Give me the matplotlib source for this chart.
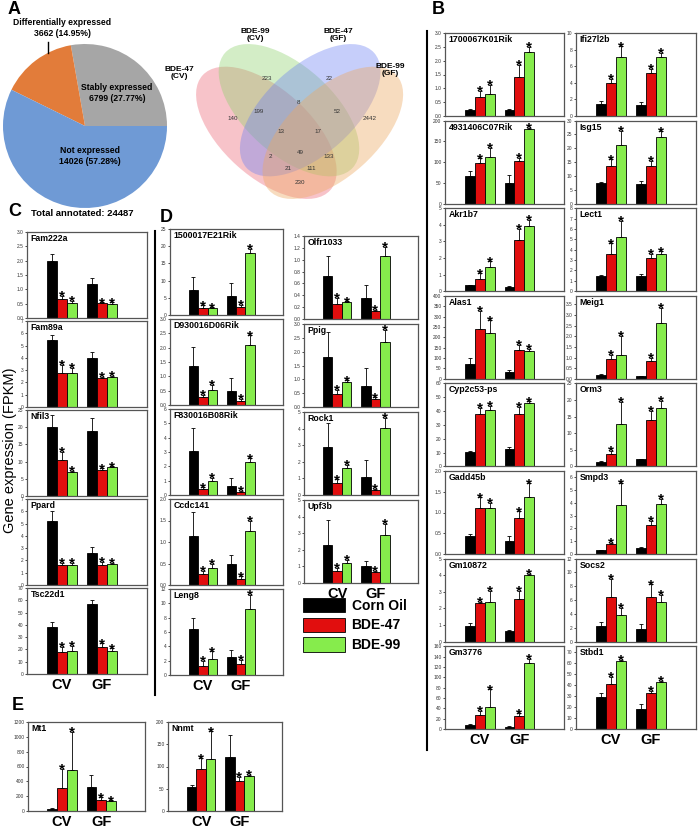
import numpy as np
import matplotlib
matplotlib.use('Agg')
import matplotlib.pyplot as plt
from matplotlib.patches import Ellipse, Patch
from matplotlib.lines import Line2D

plt.rcParams['font.family'] = ['Liberation Sans', 'DejaVu Sans']

W, H = 700, 831

# ---------------- panel A data
pie_names = ['Stably expressed', 'Differentially expressed', 'Not expressed']
pie_counts = [6799, 3662, 14026]
pie_colors = ['#A6A6A6', '#E27C3A', '#6F9AD5']
total_annotated = 24487

venn_sets = ['BDE-47\n(CV)', 'BDE-99\n(CV)', 'BDE-47\n(GF)', 'BDE-99\n(GF)']
venn_colors = [(0.93, 0.42, 0.48, 0.40), (0.55, 0.82, 0.42, 0.38),
               (0.42, 0.50, 0.95, 0.38), (0.93, 0.66, 0.38, 0.40)]
# membership in (47CV, 99CV, 47GF, 99GF)
venn_regions = ['1000', '0100', '0010', '0001', '1100', '0110', '0011', '1010',
                '0101', '1001', '1110', '0111', '1011', '1101', '1111']
venn_counts = [140, 223, 22, 2442, 199, 8, 52, 2, 133, 230, 13, 17, 21, 111, 49]

# ---------------- bar chart data (order: CV oil, CV 47, CV 99, GF oil, GF 47, GF 99)
groups = ['CV', 'GF']
treatments = ['Corn Oil', 'BDE-47', 'BDE-99']
bar_colors = ['black', '#E10E0E', '#86EC4C']
star_mask = [False, True, True, False, True, True]

b1_genes = ['1700067K01Rik', '4931406C07Rik', 'Akr1b7', 'Alas1', 'Cyp2c53-ps',
            'Gadd45b', 'Gm10872', 'Gm3776']
b1_ymax = [3.0, 200, 5, 400, 60, 2.0, 5, 160]
b1_step = [0.5, 50, 1, 50, 10, 0.5, 1, 20]
b1_mean = [[0.22, 0.68, 0.80, 0.22, 1.40, 2.31],
           [66, 97, 113, 50, 103, 180],
           [0.35, 0.72, 1.45, 0.28, 3.1, 3.9],
           [73, 242, 220, 33, 139, 135],
           [10.5, 37.8, 40.5, 12.9, 37.8, 45.9],
           [0.44, 1.1, 1.12, 0.32, 0.87, 1.38],
           [0.94, 2.35, 2.41, 0.61, 2.57, 4.0],
           [7.8, 28, 42, 5.2, 25, 127]]
b1_err = [[0.04, 0.24, 0.32, 0.03, 0.45, 0.2],
          [12, 12, 22, 18, 8, 3],
          [0.05, 0.35, 0.35, 0.05, 0.65, 0.4],
          [25, 85, 62, 9, 26, 9],
          [0.5, 4.4, 3.4, 1.2, 5.1, 1.2],
          [0.04, 0.27, 0.12, 0.11, 0.16, 0.32],
          [0.18, 0.06, 0.65, 0.06, 0.49, 0.1],
          [2, 8, 35, 1.3, 6, 9]]

b2_genes = ['Ifi27l2b', 'Isg15', 'Lect1', 'Meig1', 'Orm3', 'Smpd3', 'Socs2', 'Stbd1']
b2_ymax = [10, 30, 8, 3.9, 25, 6.5, 12, 75]
b2_step = [2, 5, 1, 0.5, 5, 1, 2, 10]
b2_mean = [[1.5, 4.0, 7.1, 1.35, 5.2, 7.15],
           [7.4, 13.5, 21, 7.0, 13.5, 23.9],
           [1.5, 3.6, 5.2, 1.45, 3.2, 3.55],
           [0.2, 0.92, 1.12, 0.12, 0.82, 2.6],
           [1.2, 3.7, 12.7, 2.1, 14.0, 17.6],
           [0.28, 0.75, 3.8, 0.45, 2.3, 3.9],
           [2.2, 6.5, 3.8, 1.85, 6.5, 5.75],
           [29, 40.8, 61.3, 18.4, 32.5, 42.3]]
b2_err = [[0.3, 0.45, 1.3, 0.3, 0.5, 0.45],
          [0.25, 2.5, 5.4, 1.0, 1.9, 2.3],
          [0.1, 1.0, 1.6, 0.25, 0.4, 0.3],
          [0.03, 0.2, 0.9, 0.03, 0.18, 0.75],
          [0.3, 1.0, 6.7, 0.2, 2.8, 2.1],
          [0.05, 0.15, 1.75, 0.12, 0.3, 0.4],
          [0.7, 2.6, 1.1, 0.75, 1.8, 1.05],
          [4, 6.7, 1.5, 4.6, 2.2, 1.6]]

c_genes = ['Fam222a', 'Fam89a', 'Nfil3', 'Ppard', 'Tsc22d1']
c_ymax = [3.0, 7, 25, 7, 70]
c_step = [0.5, 1, 5, 1, 10]
c_mean = [[1.98, 0.68, 0.53, 1.2, 0.52, 0.48],
          [5.45, 2.8, 2.8, 4.0, 2.35, 2.45],
          [20, 10.5, 7.0, 18.8, 7.5, 8.3],
          [5.25, 1.6, 1.6, 2.6, 1.6, 1.7],
          [38, 18, 19, 57, 22, 19]]
c_err = [[0.25, 0.1, 0.07, 0.2, 0.03, 0.07],
         [0.4, 0.65, 0.4, 0.5, 0.12, 0.07],
         [3.5, 2.3, 0.3, 4.0, 0.5, 0.3],
         [0.8, 0.2, 0.2, 0.5, 0.3, 0.1],
         [4, 4, 4, 3, 3, 2]]

d1_genes = ['1500017E21Rik', 'D930016D06Rik', 'F830016B08Rik', 'Ccdc141', 'Leng8']
d1_ymax = [25, 3.0, 6, 2.0, 12]
d1_step = [5, 0.5, 1, 0.5, 2]
d1_mean = [[7.3, 1.9, 1.9, 5.5, 2.2, 18.1],
           [1.37, 0.28, 0.53, 0.5, 0.15, 2.08],
           [3.1, 0.4, 1.0, 0.65, 0.22, 2.3],
           [1.15, 0.25, 0.4, 0.5, 0.15, 1.25],
           [6.4, 1.3, 2.3, 2.5, 1.6, 9.2]]
d1_err = [[3.7, 0.9, 0.3, 3.8, 0.8, 1.2],
          [0.65, 0.08, 0.18, 0.44, 0.06, 0.35],
          [1.6, 0.15, 0.2, 0.55, 0.06, 0.25],
          [0.55, 0.08, 0.1, 0.2, 0.05, 0.25],
          [1.6, 0.7, 1.0, 1.0, 0.5, 2.0]]

d2_genes = ['Olfr1033', 'Ppig', 'Rock1', 'Upf3b']
d2_ymax = [1.4, 3.0, 5, 5]
d2_step = [0.2, 0.5, 1, 1]
d2_mean = [[0.72, 0.26, 0.29, 0.35, 0.13, 1.07],
           [1.8, 0.47, 0.92, 0.75, 0.3, 2.35],
           [2.9, 0.75, 1.6, 1.1, 0.3, 4.05],
           [2.3, 0.7, 1.2, 1.0, 0.65, 2.9]]
d2_err = [[0.35, 0.1, 0.01, 0.22, 0.03, 0.15],
          [0.9, 0.15, 0.05, 0.65, 0.05, 0.45],
          [1.45, 0.2, 0.22, 1.0, 0.08, 0.6],
          [1.5, 0.2, 0.2, 0.3, 0.1, 0.65]]

e_genes = ['Mt1', 'Nnmt']
e_ymax = [1200, 200]
e_step = [200, 50]
e_mean = [[30, 315, 550, 325, 145, 135],
          [53, 95, 116, 122, 67, 78]]
e_err = [[5, 250, 520, 165, 40, 10],
         [5, 23, 63, 48, 10, 3]]


fig = plt.figure(figsize=(W / 100, H / 100), dpi=100)


def px_axes(l, t, r, b):
    return fig.add_axes([l / W, 1 - b / H, (r - l) / W, (b - t) / H])


def ftext(x, y, s, **kw):
    fig.text(x / W, 1 - y / H, s, **kw)


def bar_panel(box, name, ymax, step, mean, err, xlabels=False):
    ax = px_axes(*box)
    w = 0.25
    x = np.array([1 - w, 1, 1 + w, 2 - w, 2, 2 + w])
    ax.bar(x, mean, width=w, color=bar_colors * 2, edgecolor='black', linewidth=0.6, zorder=2)
    ax.errorbar(x, mean, yerr=[np.zeros(6), err], fmt='none', ecolor='black',
                elinewidth=0.6, capsize=1.2, capthick=0.6, zorder=3)
    for xi, m, e, s in zip(x, mean, err, star_mask):
        if s:
            ax.annotate('*', (xi, m + e), xytext=(0, -3.5), textcoords='offset points',
                        ha='center', va='baseline', fontsize=11, fontweight='bold')
    ax.set_xlim(0.13, 3.12)
    ax.set_ylim(0, ymax)
    ticks = np.arange(0, ymax + step * 1e-6, step)
    ax.set_yticks(ticks)
    if step < 1:
        ax.set_yticklabels(['%.1f' % t for t in ticks])
    else:
        ax.set_yticklabels(['%d' % t for t in ticks])
    ax.tick_params(axis='y', labelsize=3.5, length=1.5, width=0.5, pad=1,
                   direction='out', labelcolor='#333333')
    for sp in ax.spines.values():
        sp.set_color('#555555')
        sp.set_linewidth(0.9)
    ax.text(0.03, 0.975, name, transform=ax.transAxes, ha='left', va='top',
            fontsize=6.3, fontweight='bold')
    if xlabels:
        ax.set_xticks([1, 2])
        ax.set_xticklabels(groups, fontsize=10.5, fontweight='bold')
        ax.tick_params(axis='x', length=0, pad=3)
    else:
        ax.set_xticks([])
    return ax


# ---------------- panel A: pie
ax_pie = px_axes(3, 44, 167, 208)
ax_pie.pie(pie_counts, colors=pie_colors, startangle=0, counterclock=True, radius=1)
ax_pie.set_xlim(-1, 1)
ax_pie.set_ylim(-1, 1)
pcts = [100 * c / total_annotated for c in pie_counts]
pie_text_pos = [(0.39, 0.40), (-0.28, 1.19), (0.06, -0.37)]
for name, c, p, (tx, ty) in zip(pie_names, pie_counts, pcts, pie_text_pos):
    ax_pie.text(tx, ty, '%s\n%d (%.2f%%)' % (name, c, p), ha='center', va='center',
                fontsize=6.2, fontweight='bold', clip_on=False, linespacing=1.3)
ax_pie.plot([-0.45, -0.45], [0.89, 1.03], color='black', lw=1, clip_on=False)

# ---------------- panel A: venn
ax_v = px_axes(180, 18, 420, 206)
ax_v.set_xlim(-0.0322, 1.0298)
ax_v.set_ylim(0.0761, 0.908)
ax_v.axis('off')
ell_centers = [(0.350, 0.400), (0.450, 0.500), (0.544, 0.500), (0.644, 0.400)]
ell_angles = [138, 138, 42, 42]
for (cx, cy), ang, col in zip(ell_centers, ell_angles, venn_colors):
    ax_v.add_patch(Ellipse((cx, cy), 0.76, 0.39, angle=ang, facecolor=col, edgecolor='none'))
region_pos = {'1000': (0.202, 0.465), '0100': (0.353, 0.642), '0010': (0.627, 0.642),
              '0001': (0.808, 0.465), '1100': (0.317, 0.496), '0110': (0.494, 0.532),
              '0011': (0.663, 0.496), '1010': (0.366, 0.293), '0101': (0.627, 0.293),
              '1001': (0.499, 0.182), '1110': (0.415, 0.404), '0111': (0.578, 0.404),
              '1011': (0.446, 0.244), '1101': (0.547, 0.244), '1111': (0.499, 0.311)}
for reg, cnt in zip(venn_regions, venn_counts):
    rx, ry = region_pos[reg]
    ax_v.text(rx, ry, str(cnt), ha='center', va='center', fontsize=4.5, color='#333333')
set_pos = [(-0.037, 0.665), (0.300, 0.833), (0.667, 0.833), (0.900, 0.678)]
for s, (sx, sy) in zip(venn_sets, set_pos):
    ax_v.text(sx, sy, s, ha='center', va='center', fontsize=6, fontweight='bold',
              linespacing=1.15, clip_on=False)

# ---------------- panel B
for i in range(8):
    top = 33 + 87.6 * i
    last = i == 7
    bar_panel((445, top, 564, top + 83), b1_genes[i], b1_ymax[i], b1_step[i],
              b1_mean[i], b1_err[i], xlabels=last)
    bar_panel((576, top, 696, top + 83), b2_genes[i], b2_ymax[i], b2_step[i],
              b2_mean[i], b2_err[i], xlabels=last)

# ---------------- panel C
for i in range(5):
    top = 232 + 89 * i
    bar_panel((27, top, 147, top + 86), c_genes[i], c_ymax[i], c_step[i],
              c_mean[i], c_err[i], xlabels=(i == 4))

# ---------------- panel D
for i in range(5):
    top = 229 + 90 * i
    bar_panel((170, top, 283, top + 86), d1_genes[i], d1_ymax[i], d1_step[i],
              d1_mean[i], d1_err[i], xlabels=(i == 4))
for i in range(4):
    top = 236 + 88 * i
    bar_panel((304, top, 418, top + 83), d2_genes[i], d2_ymax[i], d2_step[i],
              d2_mean[i], d2_err[i], xlabels=(i == 3))

# ---------------- panel E
bar_panel((28, 722, 145, 811), e_genes[0], e_ymax[0], e_step[0], e_mean[0], e_err[0], xlabels=True)
bar_panel((168, 722, 282, 811), e_genes[1], e_ymax[1], e_step[1], e_mean[1], e_err[1], xlabels=True)

# legend
handles = [Patch(facecolor=c, edgecolor='black', linewidth=0.6) for c in bar_colors]
fig.legend(handles, treatments, loc='upper left', bbox_to_anchor=(303 / W, 1 - 598 / H),
           frameon=False, handlelength=3.0, handleheight=1.2, handletextpad=0.5,
           labelspacing=0.35, borderpad=0, borderaxespad=0,
           prop={'weight': 'bold', 'size': 10})

# separators
fig.add_artist(Line2D([427 / W, 427 / W], [1 - 31 / H, 1 - 750 / H], color='black', lw=1.5))
fig.add_artist(Line2D([155 / W, 155 / W], [1 - 231 / H, 1 - 695 / H], color='black', lw=1.5))

# labels
for lab, (lx, ly) in zip('ABCDE', [(8, 9), (432, 10), (8, 211), (160, 218), (12, 706)]):
    ftext(lx, ly, lab, fontsize=13, fontweight='bold', va='center', ha='left')
ftext(82, 213, 'Total annotated: %d' % total_annotated, fontsize=6.8, fontweight='bold',
      ha='center', va='center')
ftext(10, 450, 'Gene expression (FPKM)', fontsize=10.5, rotation=90, ha='center', va='center')

fig.savefig('out.png', dpi=100)
